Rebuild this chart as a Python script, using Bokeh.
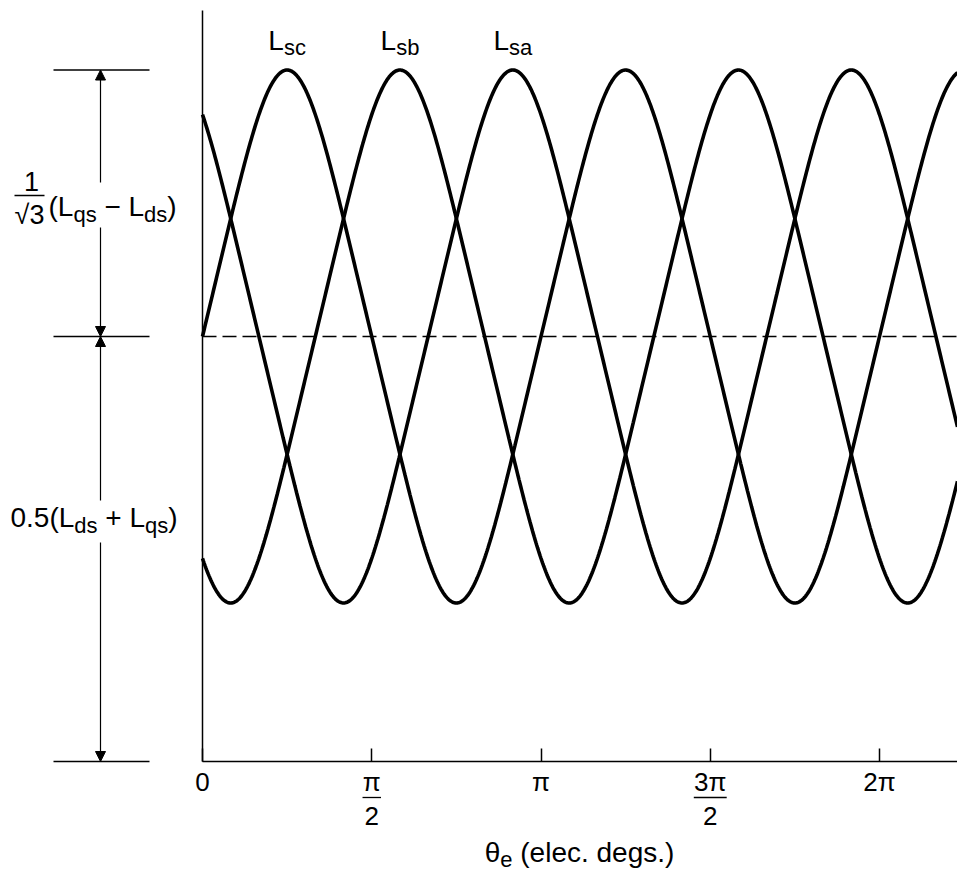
import numpy as np
from bokeh.plotting import figure
from bokeh.models import Range1d, Label, Arrow, NormalHead, FixedTicker
from bokeh.embed import file_html
from bokeh.resources import INLINE

# ---------------- data ----------------
tick_theta = [0.0, np.pi / 2, np.pi, 3 * np.pi / 2, 2 * np.pi]
tick_top = ["0", "π", "π", "3π", "2π"]          # numerators / plain labels
tick_bottom = ["", "2", "", "2", ""]             # denominators of fraction ticks
curve_sub = ["sc", "sb", "sa"]                   # L_sc, L_sb, L_sa
curve_peak_theta = [np.pi / 4, 7 * np.pi / 12, 11 * np.pi / 12]
L_ds = 0.457
L_qs = 1.543
harmonic3 = 0.04                                  # slight peaking of the drawn waves

mean = 0.5 * (L_ds + L_qs)
amp = (L_qs - L_ds) / np.sqrt(3)

# ---------------- layout ----------------
W, H = 957, 880
AX_X = 202          # pixel column of theta = 0
AX_Y = 761          # pixel row of y = 0
PX_PER_RAD = 338.5 / np.pi
PX_PER_UNIT = 425.0
FONT = "Liberation Sans"
MAIN = 28
SUB = 22
BASE_FIX = 9        # label baseline correction (px)


def X(sx):
    return (sx - AX_X) / PX_PER_RAD


def Y(sy):
    return (AX_Y - sy) / PX_PER_UNIT


x_end = X(W)

CW = {"L": .556, "s": .5, "c": .5, "b": .556, "a": .556, "q": .556, "d": .556,
      "e": .556, "l": .222, "g": .556, "(": .333, ")": .333, " ": .278, ".": .278,
      "+": .584, "−": .584, "θ": .556, "π": .556, "√": .549}


def tw(s, size):
    return sum(CW.get(ch, .556) for ch in s) * size


p = figure(width=W, height=H, x_range=Range1d(X(0), X(W)), y_range=Range1d(Y(H), Y(0)),
           output_backend="svg", toolbar_location=None,
           min_border_left=0, min_border_right=0, min_border_top=0,
           min_border_bottom=0)
p.outline_line_color = None
p.grid.visible = False
p.background_fill_color = "white"
p.border_fill_color = "white"

xa = p.xaxis[0]
xa.fixed_location = 0.0
xa.bounds = (0.0, x_end)
xa.ticker = FixedTicker(ticks=tick_theta)
xa.major_label_overrides = {t: s for t, s in zip(tick_theta, tick_top)}
xa.major_tick_in = 13
xa.major_tick_out = 0
xa.minor_tick_line_color = None
xa.axis_line_width = 1.5
xa.major_tick_line_width = 1.5
xa.axis_line_color = "black"
xa.major_tick_line_color = "black"
xa.major_label_text_font = FONT
xa.major_label_text_font_size = "26px"
xa.major_label_text_color = "black"
xa.major_label_standoff = 5

ya = p.yaxis[0]
ya.fixed_location = 0.0
ya.bounds = (0.0, Y(10))
ya.ticker = FixedTicker(ticks=[])
ya.major_tick_line_color = None
ya.minor_tick_line_color = None
ya.major_label_text_font_size = "0px"
ya.axis_line_width = 1.5
ya.axis_line_color = "black"

# ---------------- curves ----------------
theta = np.linspace(0, x_end, 900)
for pk in curve_peak_theta:
    ph = 2 * (theta - pk) + np.pi / 2
    g = (np.sin(ph) - harmonic3 * np.sin(3 * ph)) / (1 + harmonic3)
    p.line(theta, mean + amp * g, line_width=3.6, line_color="black")

# dashed mean level 0.5(Lds + Lqs)
p.line([0.0, x_end], [mean, mean], line_dash="14 6", line_width=1.3, line_color="black")


def label(x, sy, text, size=MAIN, align="left", x_offset=0):
    """x in data units, sy = wanted baseline pixel row."""
    p.add_layout(Label(x=x, y=Y(sy - BASE_FIX), text=text, text_font=FONT,
                       text_font_size=f"{size}px", text_align=align,
                       text_baseline="alphabetic", text_color="black",
                       x_offset=x_offset))


def rich(x, sy_main, sy_sub, pieces, x_offset=0):
    off = x_offset
    for s, sub in pieces:
        size = SUB if sub else MAIN
        lead = len(s) - len(s.lstrip(" "))
        off += lead * CW[" "] * size
        body = s.strip(" ")
        label(x, sy_sub if sub else sy_main, body, size=size, x_offset=off)
        off += tw(s.lstrip(" "), size)


def seg(x0, y0, x1, y1, w=1.3):
    p.add_layout(Arrow(start=None, end=None, x_start=x0, y_start=y0, x_end=x1,
                       y_end=y1, line_width=w, line_color="black"))


def arrow(x0, y0, x1, y1, head_at_start):
    head = NormalHead(size=10, fill_color="black", line_color="black", line_width=1)
    p.add_layout(Arrow(start=head if head_at_start else None,
                       end=None if head_at_start else head,
                       x_start=x0, y_start=y0, x_end=x1, y_end=y1,
                       line_width=1.2, line_color="black"))


# curve labels above the peaks
for name, pk in zip(curve_sub, curve_peak_theta):
    total = tw("L", MAIN) + tw(name, SUB)
    rich(pk, 49, 56, [("L", False), (name, True)], x_offset=-total / 2)

# fraction tick labels (denominators and bars)
for t, num, den in zip(tick_theta, tick_top, tick_bottom):
    if den:
        hw = (tw(num, 26) + 4) / 2 / PX_PER_RAD
        seg(t - hw, Y(797), t + hw, Y(797), w=1.3)
        label(t, 824, den, size=26, align="center")

# axis title
pieces = [("θ", False), ("e", True), (" (elec. degs.)", False)]
total = sum(tw(s, SUB if b else MAIN) for s, b in pieces)
rich(X(579), 861, 868, pieces, x_offset=-total / 2)

# left dimension annotations
top_val = mean + amp
for yv in (top_val, mean, 0.0):
    seg(X(53), yv, X(149), yv)
xa_ = X(100)
arrow(xa_, top_val, xa_, Y(182), True)
arrow(xa_, Y(227), xa_, mean, False)
arrow(xa_, mean, xa_, Y(500), True)
arrow(xa_, Y(542), xa_, 0.0, False)

# 1/sqrt(3) (Lqs - Lds)
label(X(31), 190, "1", size=27, align="center")
seg(X(14), Y(195), X(44), Y(195))
label(X(29), 223, "√3", size=27, align="center")
rich(X(48), 215, 223,
     [("(L", False), ("qs", True), (" − L", False), ("ds", True), (")", False)])

# 0.5 (Lds + Lqs)
rich(X(10), 526, 534,
     [("0.5(L", False), ("ds", True), (" + L", False), ("qs", True), (")", False)])

open("out.html", "w").write(file_html(p, INLINE))
